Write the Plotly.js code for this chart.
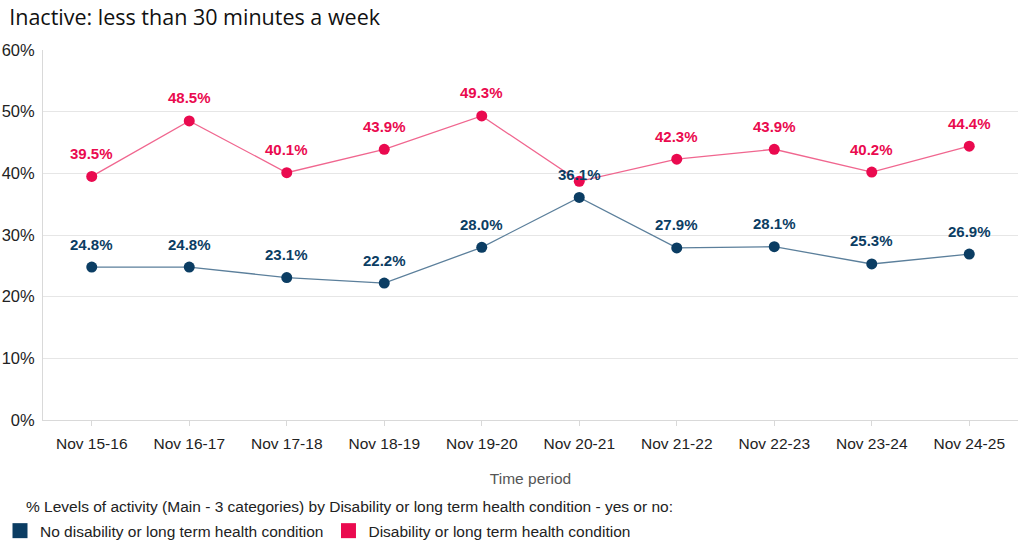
<!DOCTYPE html>
<html>
<head>
<meta charset="utf-8">
<script src="https://cdn.plot.ly/plotly-3.0.1.min.js"></script>
<style>html,body{margin:0;padding:0;background:#fff;}#chart{width:1024px;height:560px;}</style>
</head>
<body>
<div id="chart"></div>
<script>
const periods = ["Nov 15-16","Nov 16-17","Nov 17-18","Nov 18-19","Nov 19-20","Nov 20-21","Nov 21-22","Nov 22-23","Nov 23-24","Nov 24-25"];
const noDisability = [24.8, 24.8, 23.1, 22.2, 28.0, 36.1, 27.9, 28.1, 25.3, 26.9];
const disability = [39.5, 48.5, 40.1, 43.9, 49.3, 38.7, 42.3, 43.9, 40.2, 44.4];
const disabilityLabels = ["39.5%","48.5%","40.1%","43.9%","49.3%","","42.3%","43.9%","40.2%","44.4%"];
const noDisabilityLabels = noDisability.map(v => v.toFixed(1) + "%");
const yTicks = [0,10,20,30,40,50,60];
const yTickLabels = ["0%","10%","20%","30%","40%","50%","60%"];

const navy = "#0b3d63", navyLine = "#5b7f9b";
const pink = "#ea0a4f", pinkLine = "#f0668f";
const FONT = "Liberation Sans, Arial, sans-serif";

const traces = [
  {x: periods, y: disability, mode: "lines+markers", line: {color: pinkLine, width: 1.3},
   marker: {color: pink, size: 11}, showlegend: false, cliponaxis: false},
  {x: periods, y: noDisability, mode: "lines+markers", line: {color: navyLine, width: 1.3},
   marker: {color: navy, size: 11}, showlegend: false, cliponaxis: false},
  {x: [null], y: [null], mode: "markers", name: "No disability or long term health condition",
   marker: {color: navy, symbol: "square", size: 15}, showlegend: true},
  {x: [null], y: [null], mode: "markers", name: "Disability or long term health condition",
   marker: {color: pink, symbol: "square", size: 15}, showlegend: true}
];

const annotations = [];
periods.forEach((p, i) => {
  if (disabilityLabels[i]) annotations.push({x: p, y: disability[i], text: disabilityLabels[i], showarrow: false,
    yshift: 23, font: {family: FONT, size: 15, color: pink, weight: "bold"}});
  annotations.push({x: p, y: noDisability[i], text: noDisabilityLabels[i], showarrow: false,
    yshift: 23, font: {family: FONT, size: 15, color: navy, weight: "bold"}});
});
annotations.push({xref: "paper", yref: "paper", x: -0.0195, xanchor: "left", y: -0.235, yanchor: "middle", showarrow: false,
  text: "% Levels of activity (Main - 3 categories) by Disability or long term health condition - yes or no:",
  font: {family: FONT, size: 15.5, color: "#222"}});

const layout = {
  width: 1024, height: 560,
  margin: {l: 43, r: 6, t: 50, b: 140},
  paper_bgcolor: "#fff", plot_bgcolor: "#fff",
  title: {text: "Inactive: less than 30 minutes a week", x: 0.009, xanchor: "left", y: 0.968, yanchor: "middle",
          font: {family: "Open Sans, sans-serif", size: 21.5, color: "#111"}},
  xaxis: {type: "category", range: [-0.5, 9.5], showgrid: false, showline: true, linecolor: "#d9d9d9", linewidth: 1,
          ticks: "outside", ticklen: 5, tickcolor: "#d9d9d9", automargin: false, ticklabelstandoff: 4,
          tickfont: {family: FONT, size: 15.5, color: "#222"},
          title: {text: "Time period", font: {family: FONT, size: 15.5, color: "#555"}, standoff: 22},
          fixedrange: true},
  yaxis: {range: [0, 60], tickvals: yTicks, ticktext: yTickLabels, showgrid: true, gridcolor: "#e6e6e6", gridwidth: 1,
          showline: true, linecolor: "#d9d9d9", zeroline: false, ticks: "", ticklabelstandoff: 4, automargin: false,
          tickfont: {family: FONT, size: 16.5, color: "#222"}, fixedrange: true},
  legend: {orientation: "h", xref: "container", yref: "container", x: -0.007, xanchor: "left", y: 0.082, yanchor: "top",
           font: {family: FONT, size: 15.5, color: "#222"},
           itemwidth: 30, tracegroupgap: 0, traceorder: "normal"},
  annotations: annotations,
  showlegend: true
};

Plotly.newPlot("chart", traces, layout, {displayModeBar: false, staticPlot: true});
</script>
</body>
</html>
